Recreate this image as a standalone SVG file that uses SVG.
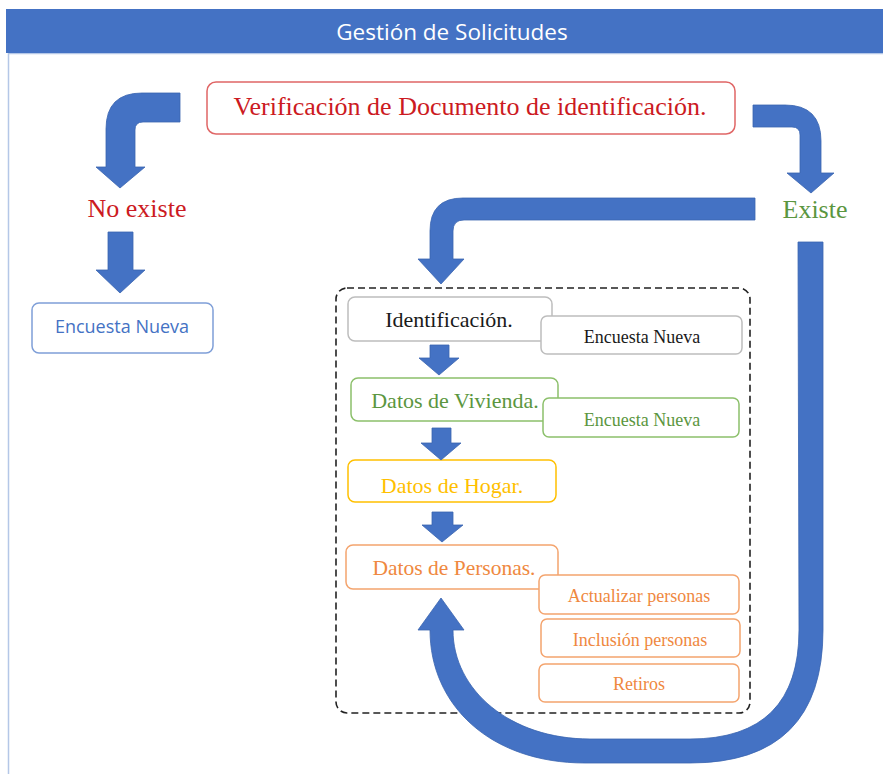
<svg xmlns="http://www.w3.org/2000/svg" width="883" height="774" viewBox="0 0 883 774">
<style>
.serif{font-family:"Liberation Serif","Times New Roman",serif;text-anchor:middle}
.sans{font-family:"Open Sans","Liberation Sans",sans-serif;text-anchor:middle}
.arrow{fill:#4472C4;stroke:#3a64b0;stroke-width:0.8}
.box{fill:#fff;stroke-width:1.5}
</style>
<rect x="0" y="0" width="883" height="774" fill="#fff"/>
<rect x="8.5" y="53.5" width="880" height="730" fill="none" stroke="#b4c7e7" stroke-width="1.5"/>
<g id="header">
<rect x="6" y="9" width="877" height="44" fill="#4472C4"/>
<text class="sans" x="452" y="40" font-size="22.5" fill="#fff">Gestión de Solicitudes</text>
</g>
<g id="verificacion">
<rect class="box" x="207" y="82" width="528" height="52" rx="9" stroke="#e06666"/>
<text class="serif" x="470" y="115" font-size="26" fill="#cc1a22">Verificación de Documento de identificación.</text>
</g>
<g id="no-existe">
<text class="serif" x="137" y="217" font-size="26" fill="#cc1a22">No existe</text>
</g>
<g id="existe">
<text class="serif" x="815" y="218" font-size="26" fill="#5b9640">Existe</text>
</g>
<g id="encuesta-nueva-left">
<rect class="box" x="32" y="303" width="181" height="50" rx="7" stroke="#7f9fd8"/>
<text class="sans" x="122" y="333" font-size="18" fill="#4472C4">Encuesta Nueva</text>
</g>
<g id="grupo">
<rect x="336" y="288" width="414" height="425" rx="11" fill="none" stroke="#222" stroke-width="1.6" stroke-dasharray="7 4"/>
</g>
<g id="identificacion">
<rect class="box" x="348" y="297" width="204" height="44" rx="7" stroke="#bdbdbd"/>
<text class="serif" x="449" y="327" font-size="22" fill="#1a1a1a">Identificación.</text>
</g>
<g id="encuesta-nueva-gray">
<rect class="box" x="541" y="316" width="201" height="38" rx="6" stroke="#bdbdbd"/>
<text class="serif" x="642" y="343" font-size="18" fill="#1a1a1a">Encuesta Nueva</text>
</g>
<g id="vivienda">
<rect class="box" x="351" y="378" width="207" height="43" rx="7" stroke="#8cc06b"/>
<text class="serif" x="455" y="408" font-size="22" fill="#5b9640">Datos de Vivienda.</text>
</g>
<g id="encuesta-nueva-green">
<rect class="box" x="543" y="398" width="196" height="39" rx="6" stroke="#8cc06b"/>
<text class="serif" x="642" y="426" font-size="18" fill="#5b9640">Encuesta Nueva</text>
</g>
<g id="hogar">
<rect class="box" x="348" y="460" width="208" height="42" rx="7" stroke="#ffc000"/>
<text class="serif" x="452" y="493" font-size="22" fill="#ffc000">Datos de Hogar.</text>
</g>
<g id="personas">
<rect class="box" x="346" y="545" width="212" height="44" rx="7" stroke="#f4a46e"/>
<text class="serif" x="454" y="575" font-size="21.5" fill="#ef8840">Datos de Personas.</text>
</g>
<g id="actualizar">
<rect class="box" x="539" y="575" width="200" height="39" rx="6" stroke="#f4a46e"/>
<text class="serif" x="639" y="602" font-size="18" fill="#ef8840">Actualizar personas</text>
</g>
<g id="inclusion">
<rect class="box" x="541" y="619" width="199" height="38" rx="6" stroke="#f4a46e"/>
<text class="serif" x="640" y="646" font-size="18" fill="#ef8840">Inclusión personas</text>
</g>
<g id="retiros">
<rect class="box" x="539" y="664" width="200" height="38" rx="6" stroke="#f4a46e"/>
<text class="serif" x="639" y="690" font-size="18" fill="#ef8840">Retiros</text>
</g>
<g id="connectors">
<path class="arrow" d="M180,93 L142,93 Q106,93 106,129 L106,167 L96,167 L120,188 L145,167 L135,167 L135,130 Q135,122 143,122 L180,122 Z"/>
<path class="arrow" d="M108,232 L133,232 L133,270 L145,270 L120,293 L96,270 L108,270 Z"/>
<path class="arrow" d="M753,105 L785,105 Q821,105 821,141 L821,173 L834,173 L811,193 L787,173 L800,173 L800,135 Q800,127 792,127 L753,127 Z"/>
<path class="arrow" d="M755,198 L463,198 Q430,198 430,231 L430,259 L418,259 L441,284 L464,259 L453,259 L453,231 Q453,220 464,220 L755,220 Z"/>
<path class="arrow" d="M430,345 L449,345 L449,358 L459,358 L439,375 L419,358 L430,358 Z"/>
<path class="arrow" d="M432,428 L451,428 L451,443 L461,443 L441,460 L421,443 L432,443 Z"/>
<path class="arrow" d="M432,512 L453,512 L453,525 L463,525 L442,542 L422,525 L432,525 Z"/>
<path class="arrow" d="M798,242 L823,242 L823,630 Q823,763 690,763 L585,763 C490,763 430,705 430,630 L418,630 L441,598 L464,630 L453,630 C453,690 510,739 590,739 L690,739 Q799,739 799,630 Z"/>
</g>
</svg>
